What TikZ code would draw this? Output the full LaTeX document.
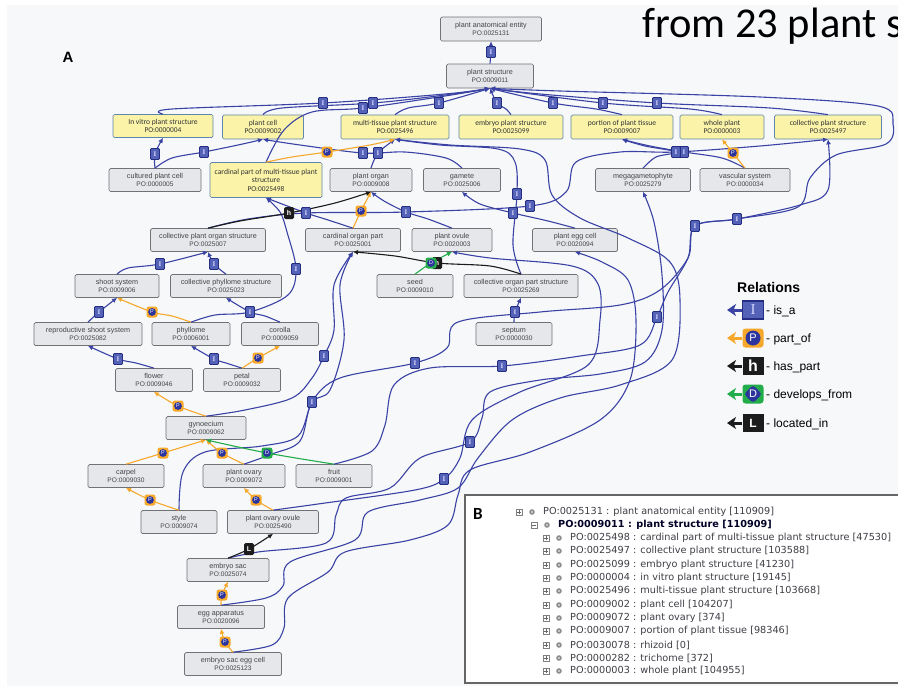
\documentclass[tikz,border=0pt]{standalone}
\usepackage{fontspec}
\setmainfont{Liberation Sans}
\newfontfamily\carl{Carlito}
\newfontfamily\dvs{DejaVu Sans}
\newfontfamily\lser{Liberation Serif}
\usetikzlibrary{arrows.meta}
\definecolor{bgc}{RGB}{246,248,250}
\definecolor{isac}{RGB}{58,66,164}
\definecolor{ifill}{RGB}{84,98,184}
\definecolor{idark}{RGB}{38,46,130}
\definecolor{partc}{RGB}{246,168,42}
\definecolor{pblue}{RGB}{44,52,158}
\definecolor{devc}{RGB}{34,172,74}
\definecolor{blk}{RGB}{28,28,28}
\definecolor{gfill}{RGB}{229,231,235}
\definecolor{gbord}{RGB}{112,114,118}
\definecolor{gtext}{RGB}{68,68,72}
\definecolor{yfill}{RGB}{250,243,168}
\definecolor{ybord}{RGB}{96,134,170}
\definecolor{btext}{RGB}{62,62,70}
\newcommand\pid[1]{\\{\fontsize{6.6}{8.4}\selectfont #1}}
\newcommand\ypid[1]{\\{\fontsize{7.4}{8.6}\selectfont #1}}
\newcommand\ed[2]{\draw[#1] plot[smooth,tension=0.55] coordinates {#2};}
\newcommand\brow[5]{%
  \draw[black!50, line width=0.5pt, fill=white] (#2-3,#1-3) rectangle (#2+3,#1+3);
  \draw[black!60, line width=0.5pt] (#2-1.8,#1) -- (#2+1.8,#1);
  \ifnum#3=1 \draw[black!60, line width=0.5pt] (#2,#1-1.8) -- (#2,#1+1.8);\fi
  \fill[black!45] (#2+13,#1) circle (2.8);
  \fill[white] (#2+13,#1) circle (0.9);
  \node[anchor=west, inner sep=0pt, text=btext, font=\dvs\fontsize{9.7}{11}\selectfont] (#5) at (#2+24,#1) {#4};}
\tikzset{
 gn/.style={draw=gbord, fill=gfill, rounded corners=1.5pt, line width=0.7pt, inner sep=0pt, align=center, text=gtext, font=\fontsize{7.2}{8.4}\selectfont},
 yn/.style={gn, fill=yfill, draw=ybord, text=black!80, font=\carl\fontsize{7.6}{8.6}\selectfont},
 isa/.style={draw=isac, line width=1.1pt, -{Latex[length=5pt,width=5pt]}},
 partof/.style={draw=partc, line width=1.1pt, -{Latex[length=5pt,width=5pt]}},
 haspart/.style={draw=blk, line width=1.1pt, -{Latex[length=5pt,width=5pt]}},
 devfrom/.style={draw=devc, line width=1.1pt, -{Latex[length=5pt,width=5pt]}},
 ilbl/.style={draw=idark, fill=ifill, rounded corners=1pt, line width=0.8pt, minimum width=9pt, minimum height=11pt, inner sep=0pt, text=white!85!blue, font=\lser\bfseries\fontsize{7}{7}\selectfont},
 plbl/.style={fill=partc, rounded corners=2.5pt, minimum size=11pt, inner sep=0pt, path picture={\fill[pblue] (path picture bounding box.center) circle (3.9pt);}, text=white, font=\fontsize{5.5}{5.5}\selectfont},
 dlbl/.style={fill=devc, rounded corners=2.5pt, minimum size=11pt, inner sep=0pt, path picture={\fill[pblue] (path picture bounding box.center) circle (3.9pt);}, text=white, font=\fontsize{5.5}{5.5}\selectfont},
 hlbl/.style={fill=blk, rounded corners=1.5pt, minimum width=10pt, minimum height=12pt, inner sep=0pt, text=white, font=\bfseries\fontsize{7}{7}\selectfont},
 legtxt/.style={anchor=west, inner sep=0pt, font=\fontsize{12}{12}\selectfont},
 legarrow/.style={line width=3pt, -{Stealth[length=9pt,width=12pt,inset=2.5pt]}},
}
\begin{document}
\begin{tikzpicture}[x=1pt,y=-1pt]
\useasboundingbox (0,0) rectangle (898,686);
\clip (0,0) rectangle (898,686);
\fill[white] (0,0) rectangle (898,686);
\fill[bgc] (7,5) rectangle (898,686);

% ---------- nodes ----------
\node[gn,minimum width=101pt,minimum height=24pt] (pae) at (491,29) {plant anatomical entity\pid{PO:0025131}};
\node[gn,minimum width=87pt,minimum height=24pt] (ps) at (490,76) {plant structure\pid{PO:0009011}};
\node[yn,minimum width=100pt,minimum height=23pt] (invitro) at (163,126) {In vitro plant structure\ypid{PO:0000004}};
\node[yn,minimum width=81pt,minimum height=24pt] (plantcell) at (263,127) {plant cell\ypid{PO:0009002}};
\node[yn,minimum width=108pt,minimum height=24pt] (mt) at (395,127) {multi-tissue plant structure\ypid{PO:0025496}};
\node[yn,minimum width=104pt,minimum height=24pt] (embryo) at (511,127) {embryo plant structure\ypid{PO:0025099}};
\node[yn,minimum width=102pt,minimum height=24pt] (portion) at (622,127) {portion of plant tissue\ypid{PO:0009007}};
\node[yn,minimum width=84pt,minimum height=24pt] (whole) at (722,127) {whole plant\ypid{PO:0000003}};
\node[yn,minimum width=107pt,minimum height=24pt] (collps) at (828,127) {collective plant structure\ypid{PO:0025497}};
\node[gn,minimum width=92pt,minimum height=23pt] (cultured) at (155,180) {cultured plant cell\pid{PO:0000005}};
\node[yn,minimum width=112pt,minimum height=35pt] (cardpart) at (266,180) {cardinal part of multi-tissue plant\\structure\ypid{PO:0025498}};
\node[gn,minimum width=82pt,minimum height=23pt] (porgan) at (371,180) {plant organ\pid{PO:0009008}};
\node[gn,minimum width=77pt,minimum height=23pt] (gamete) at (462,180) {gamete\pid{PO:0025006}};
\node[gn,minimum width=95pt,minimum height=23pt] (mg) at (643,180) {megagametophyte\pid{PO:0025279}};
\node[gn,minimum width=90pt,minimum height=23pt] (vs) at (745,180) {vascular system\pid{PO:0000034}};
\node[gn,minimum width=115pt,minimum height=23pt] (cpos) at (208,240) {collective plant organ structure\pid{PO:0025007}};
\node[gn,minimum width=95pt,minimum height=23pt] (cop) at (353,240) {cardinal organ part\pid{PO:0025001}};
\node[gn,minimum width=80pt,minimum height=23pt] (povule) at (452,240) {plant ovule\pid{PO:0020003}};
\node[gn,minimum width=85pt,minimum height=23pt] (pec) at (575,240) {plant egg cell\pid{PO:0020094}};
\node[gn,minimum width=84pt,minimum height=23pt] (shoot) at (117,286) {shoot system\pid{PO:0009006}};
\node[gn,minimum width=111pt,minimum height=23pt] (cphyl) at (226,286) {collective phyllome structure\pid{PO:0025023}};
\node[gn,minimum width=76pt,minimum height=23pt] (seed) at (415,286) {seed\pid{PO:0009010}};
\node[gn,minimum width=114pt,minimum height=23pt] (cops) at (521,286) {collective organ part structure\pid{PO:0025269}};
\node[gn,minimum width=108pt,minimum height=23pt] (rss) at (88,334) {reproductive shoot system\pid{PO:0025082}};
\node[gn,minimum width=78pt,minimum height=23pt] (phyl) at (191,334) {phyllome\pid{PO:0006001}};
\node[gn,minimum width=77pt,minimum height=23pt] (corolla) at (280,334) {corolla\pid{PO:0009059}};
\node[gn,minimum width=76pt,minimum height=23pt] (septum) at (514,334) {septum\pid{PO:0000030}};
\node[gn,minimum width=77pt,minimum height=23pt] (flower) at (154,380) {flower\pid{PO:0009046}};
\node[gn,minimum width=77pt,minimum height=23pt] (petal) at (242,380) {petal\pid{PO:0009032}};
\node[gn,minimum width=80pt,minimum height=23pt] (gyn) at (206,428) {gynoecium\pid{PO:0009062}};
\node[gn,minimum width=76pt,minimum height=23pt] (carpel) at (126,476) {carpel\pid{PO:0009030}};
\node[gn,minimum width=82pt,minimum height=23pt] (povary) at (244,476) {plant ovary\pid{PO:0009072}};
\node[gn,minimum width=76pt,minimum height=23pt] (fruit) at (334,476) {fruit\pid{PO:0009001}};
\node[gn,minimum width=76pt,minimum height=23pt] (style) at (179,522) {style\pid{PO:0009074}};
\node[gn,minimum width=91pt,minimum height=23pt] (pov) at (273,522) {plant ovary ovule\pid{PO:0025490}};
\node[gn,minimum width=82pt,minimum height=23pt] (es) at (228,570) {embryo sac\pid{PO:0025074}};
\node[gn,minimum width=87pt,minimum height=23pt] (ea) at (221,617) {egg apparatus\pid{PO:0020096}};
\node[gn,minimum width=97pt,minimum height=23pt] (esec) at (233,664) {embryo sac egg cell\pid{PO:0025123}};

% ---------- label positions ----------
\coordinate (i1) at (491,52);  \coordinate (i2) at (323,103); \coordinate (i3) at (363,108);
\coordinate (i4) at (373,103); \coordinate (i5) at (439,103); \coordinate (i6) at (497,103);
\coordinate (i7) at (553,103); \coordinate (i8) at (603,103); \coordinate (i9) at (657,103);
\coordinate (i10) at (155,154); \coordinate (i11) at (204,152); \coordinate (i12) at (363,153);
\coordinate (i13) at (378,153); \coordinate (i14) at (676,152); \coordinate (i15) at (684,152);
\coordinate (i16) at (306,213); \coordinate (i17) at (406,212); \coordinate (i18) at (517,194);
\coordinate (i19) at (513,213); \coordinate (i20) at (530,206); \coordinate (i21) at (160,264);
\coordinate (i22) at (214,264); \coordinate (i23) at (296,269); \coordinate (i24) at (99,312);
\coordinate (i25) at (250,312); \coordinate (i26) at (515,312); \coordinate (i27) at (118,359);
\coordinate (i28) at (214,359); \coordinate (i29) at (324,356); \coordinate (i30) at (312,402);
\coordinate (i31) at (415,363); \coordinate (i32) at (502,366); \coordinate (i33) at (470,442);
\coordinate (i34) at (444,479); \coordinate (i35) at (657,317); \coordinate (i36) at (695,226);
\coordinate (i37) at (737,219);
\coordinate (p1) at (327,152); \coordinate (p2) at (733,153); \coordinate (p3) at (361,211);
\coordinate (p4) at (152,312); \coordinate (p5) at (258,358); \coordinate (p6) at (178,406);
\coordinate (p7) at (163,453); \coordinate (p8) at (222,453); \coordinate (p9) at (150,500);
\coordinate (p10) at (256,500); \coordinate (p11) at (222,595); \coordinate (p12) at (225,642);
\coordinate (h1) at (289,213); \coordinate (h2) at (437,263);
\coordinate (d1) at (431,263); \coordinate (d2) at (267,453);
\coordinate (l1) at (249,549);

% ---------- is_a edges ----------
\draw[isa] (ps.north) -- (i1) -- (pae.south);
\ed{isa}{(invitro.north) (172,109) (i2) (445,94) (ps.south)}
\ed{isa}{(plantcell.north) (282,108) (i4) (445,95) (ps.south)}
\ed{isa}{(cardpart.north) (284,130) (312,112) (i3) (445,96) (ps.south)}
\ed{isa}{(mt.north) (408,108) (i5) (ps.south)}
\ed{isa}{(embryo.north) (506,109) (i6) (ps.south)}
\ed{isa}{(portion.north) (596,109) (i7) (ps.south)}
\ed{isa}{(whole.north) (690,109) (i8) (ps.south)}
\ed{isa}{(collps.north) (770,108) (i9) (540,94) (ps.south)}
\ed{isa}{(cultured.north) (i10) (invitro.south)}
\ed{isa}{(cultured.north) (172,158) (i11) (238,145) (plantcell.south)}
\ed{isa}{(gamete.north) (446,158) (405,152) (i12) (300,145) (plantcell.south)}
\ed{isa}{(porgan.north) (i13) (mt.south)}
\ed{isa}{(mg.north) (656,157) (i14) (645,146) (portion.south)}
\ed{isa}{(vs.north) (722,158) (i15) (650,146) (portion.south)}
\ed{isa}{(cpos.north) (248,219) (i16) (i17) (i20) (566,192) (576,162) (620,152) (i14) (760,146) (collps.south)}
\ed{isa}{(cop.north) (325,219) (i16) (cardpart.south)}
\ed{isa}{(povule.north) (428,219) (i17) (384,201) (porgan.south)}
\ed{isa}{(pec.north) (548,221) (i19) (480,204) (gamete.south)}
\ed{isa}{(cops.north) (513,245) (i18) (515,162) (498,149) (440,145) (mt.south)}
\ed{isa}{(shoot.north) (128,268) (i21) (cpos.south)}
\ed{isa}{(cphyl.north) (i22) (cpos.south)}
\ed{isa}{(rss.north) (i24) (shoot.south)}
\ed{isa}{(corolla.north) (265,316) (i25) (cphyl.south)}
\ed{isa}{(phyl.north) (215,315) (i25) (288,295) (i23) (287,232) (280,212) (cardpart.south)}
\ed{isa}{(flower.north) (136,363) (i27) (rss.south)}
\ed{isa}{(petal.north) (226,363) (i28) (phyl.south)}
\ed{isa}{(gyn.north) (245,410) (292,398) (312,378) (i29) (334,330) (334,285) (cop.south)}
\ed{isa}{(style.north) (183,472) (205,452) (262,446) (298,436) (i30) (330,390) (344,340) (340,285) (cop.south)}
\ed{isa}{(septum.north) (i26) (cops.south)}
\ed{isa}{(povary.north) (272,454) (300,441) (i30) (340,378) (i31) (447,348) (458,322) (540,312) (620,305) (660,290) (688,258) (i36) (i37) (798,207) (810,178) (836,155) (886,144) (893,124) (878,106) (760,97) (560,91) (ps.south)}
\ed{isa}{(fruit.north) (372,451) (385,425) (394,385) (430,368) (i32) (580,356) (640,345) (i35) (668,292) (688,258) (i36) (i37) (800,205) (828,190) (collps.south)}
\ed{isa}{(pov.north) (318,504) (415,490) (i34) (460,458) (472,420) (520,392) (588,365) (600,320) (598,284) (572,266) (490,258) (povule.south)}
\ed{isa}{(es.north) (258,552) (326,543) (336,515) (346,498) (390,488) (420,458) (i33) (482,418) (490,392) (540,380) (600,374) (645,362) (662,330) (662,275) (654,222) (mg.south)}
\ed{isa}{(ea.north) (266,598) (283,586) (290,562) (355,540) (368,512) (420,500) (458,488) (478,458) (512,420) (560,398) (620,385) (672,360) (680,300) (670,262) (628,238) (580,218) (552,195) (545,160) (520,149) (450,145) (mt.south)}
\ed{isa}{(esec.north) (272,645) (284,628) (288,598) (328,572) (345,552) (410,540) (448,525) (458,495) (470,470) (530,452) (600,420) (630,380) (636,320) (628,280) (602,262) (pec.south)}

% ---------- part_of ----------
\ed{partof}{(cardpart.north) (292,157) (p1) (370,145) (mt.south)}
\ed{partof}{(vs.north) (p2) (whole.south)}
\ed{partof}{(cop.north) (p3) (porgan.south)}
\ed{partof}{(phyl.north) (172,316) (p4) (shoot.south)}
\ed{partof}{(petal.north) (p5) (corolla.south)}
\ed{partof}{(gyn.north) (p6) (flower.south)}
\ed{partof}{(carpel.north) (p7) (gyn.south)}
\ed{partof}{(povary.north) (p8) (gyn.south)}
\ed{partof}{(style.north) (p9) (carpel.south)}
\ed{partof}{(pov.north) (p10) (povary.south)}
\ed{partof}{(ea.north) (p11) (es.south)}
\ed{partof}{(esec.north) (p12) (ea.south)}
% ---------- has_part / located_in / develops_from ----------
\ed{haspart}{(cpos.north) (240,221) (h1) (335,203) (porgan.south)}
\ed{haspart}{(cops.north) (490,266) (h2) (395,256) (cop.south)}
\ed{haspart}{(es.north) (l1) (pov.south)}
\ed{devfrom}{(seed.north) (d1) (povule.south)}
\ed{devfrom}{(fruit.north) (d2) (gyn.south)}

% ---------- labels ----------
\node[ilbl] (n15) at (i15) {I};
\foreach \c in {i1,i2,i3,i4,i5,i6,i7,i8,i9,i10,i11,i12,i13,i14,i16,i17,i18,i19,i20,i21,i22,i23,i24,i25,i26,i27,i28,i29,i30,i31,i32,i33,i34,i35,i36,i37}
  \node[ilbl] (n\c) at (\c) {I};
\foreach \c in {p1,p2,p3,p4,p5,p6,p7,p8,p9,p10,p11,p12}
  \node[plbl] (n\c) at (\c) {P};
\node[hlbl] (nh1) at (h1) {h};
\node[hlbl] (nh2) at (h2) {h};
\node[dlbl] (nd1) at (d1) {D};
\node[dlbl] (nd2) at (d2) {D};
\node[hlbl] (nl1) at (l1) {L};

% ---------- panel letters / title ----------
\node[font=\bfseries\fontsize{15}{15}\selectfont] (letA) at (68,57) {A};
\node[anchor=base west, inner sep=0pt, font=\carl\fontsize{42.5}{44}\selectfont] (title) at (642,37) {from 23 plant s};

% ---------- legend ----------
\node[anchor=west, inner sep=0pt, font=\bfseries\fontsize{14}{14}\selectfont] (reltitle) at (737,287) {Relations};
\node[draw=idark, fill=ifill, line width=1.2pt, minimum width=21pt, minimum height=18pt, inner sep=0pt, text=white!85!blue, font=\lser\fontsize{15}{15}\selectfont] (lg1) at (753,310) {I};
\node[fill=partc, rounded corners=3pt, minimum width=21pt, minimum height=19pt, inner sep=0pt, path picture={\fill[pblue] (path picture bounding box.center) circle (7.5pt);}, text=white, font=\fontsize{11}{11}\selectfont] (lg2) at (753,338) {P};
\node[fill=blk, minimum width=21pt, minimum height=18pt, inner sep=0pt, text=white, font=\bfseries\fontsize{16}{16}\selectfont] (lg3) at (753,366) {h};
\node[fill=devc, rounded corners=3pt, minimum width=21pt, minimum height=19pt, inner sep=0pt, path picture={\fill[pblue] ([xshift=-9pt]path picture bounding box.center) -- ([yshift=9pt]path picture bounding box.center) -- ([xshift=9pt]path picture bounding box.center) -- ([yshift=-9pt]path picture bounding box.center) -- cycle;}, text=white, font=\fontsize{11}{11}\selectfont] (lg4) at (753,394) {D};
\node[fill=blk, minimum width=21pt, minimum height=18pt, inner sep=0pt, text=white, font=\bfseries\fontsize{12}{12}\selectfont] (lg5) at (753,423) {L};
\coordinate (la1) at (727,310); \coordinate (la2) at (727,338); \coordinate (la3) at (727,366);
\coordinate (la4) at (727,394); \coordinate (la5) at (727,423);
\draw[legarrow, isac] (lg1.west) -- (la1);
\draw[legarrow, partc] (lg2.west) -- (la2);
\draw[legarrow, blk] (lg3.west) -- (la3);
\draw[legarrow, devc] (lg4.west) -- (la4);
\draw[legarrow, blk] (lg5.west) -- (la5);
\node[legtxt] (lt1) at (766,311) {- is\_a};
\node[legtxt] (lt2) at (766,339) {- part\_of};
\node[legtxt] (lt3) at (766,367) {- has\_part};
\node[legtxt] (lt4) at (766,395) {- develops\_from};
\node[legtxt] (lt5) at (766,424) {- located\_in};

% ---------- panel B ----------
\draw[fill=white, draw=black!60, line width=1.3pt] (465,495) rectangle (912,683);
\node[font=\carl\bfseries\fontsize{17}{17}\selectfont] (letB) at (478,514) {B};
\brow{512}{519}{1}{PO:0025131 : plant anatomical entity [110909]}{b1}
\brow{525}{534}{0}{\bfseries\color{black!85!blue}PO:0009011 : plant structure [110909]}{b2}
\brow{538}{546}{1}{PO:0025498 : cardinal part of multi-tissue plant structure [47530]}{b3}
\brow{551}{546}{1}{PO:0025497 : collective plant structure [103588]}{b4}
\brow{565}{546}{1}{PO:0025099 : embryo plant structure [41230]}{b5}
\brow{578}{546}{1}{PO:0000004 : in vitro plant structure [19145]}{b6}
\brow{591}{546}{1}{PO:0025496 : multi-tissue plant structure [103668]}{b7}
\brow{605}{546}{1}{PO:0009002 : plant cell [104207]}{b8}
\brow{618}{546}{1}{PO:0009072 : plant ovary [374]}{b9}
\brow{631}{546}{1}{PO:0009007 : portion of plant tissue [98346]}{b10}
\brow{645}{546}{1}{PO:0030078 : rhizoid [0]}{b11}
\brow{658}{546}{1}{PO:0000282 : trichome [372]}{b12}
\brow{671}{546}{1}{PO:0000003 : whole plant [104955]}{b13}
\end{tikzpicture}
\end{document}
